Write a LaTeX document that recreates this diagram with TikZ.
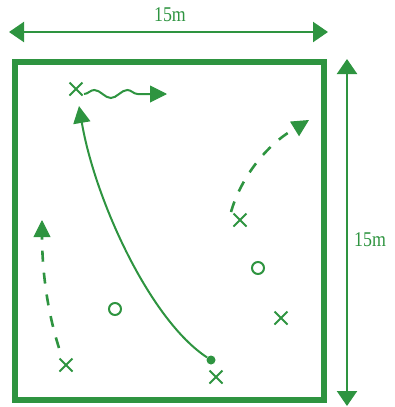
\documentclass[tikz,border=0pt]{standalone}
\usepackage{fontspec}
\setmainfont{Liberation Serif}
\usetikzlibrary{arrows.meta,shapes.misc,decorations.pathmorphing}
\definecolor{pg}{RGB}{46,148,64}
\tikzset{
  xmark/.style={cross out,draw=pg,line width=2pt,minimum size=11pt,inner sep=0pt},
  omark/.style={circle,draw=pg,line width=2pt,minimum size=12pt,inner sep=0pt},
  dotmark/.style={circle,fill=pg,minimum size=9pt,inner sep=0pt},
  bigtip/.style={-{Triangle[length=17pt,width=17pt]}},
  dimline/.style={pg,line width=2.2pt,{Triangle[length=15pt,width=20pt]}-{Triangle[length=15pt,width=20pt]}},
  runline/.style={pg,line width=2pt},
  dashrun/.style={pg,line width=2.6pt,dash pattern=on 11pt off 11pt},
  tipline/.style={pg,line width=1pt,bigtip},
  lbl/.style={text=pg,font=\fontsize{21}{23}\selectfont\addfontfeature{FakeStretch=0.85},inner sep=0pt}
}
\begin{document}
\begin{tikzpicture}[x=1pt,y=-1pt]
\useasboundingbox (0,0) rectangle (394,407);
% pitch
\draw[pg,line width=5.5pt] (15,62) rectangle (324,400);
% dimensions
\coordinate (tl) at (9,32);
\coordinate (tr) at (328,32);
\draw[dimline] (tl) -- (tr);
\node[lbl] (w) at (170,15) {15m};
\coordinate (rt) at (347,59);
\coordinate (rb) at (347,406);
\draw[dimline] (rt) -- (rb);
\node[lbl,anchor=west] (h) at (354,240) {15m};
% players
\node[xmark] (x1) at (76,89) {};
\node[xmark] (x2) at (240,220) {};
\node[xmark] (x3) at (281,318) {};
\node[xmark] (x4) at (66,365) {};
\node[xmark] (x5) at (216,377) {};
\node[omark] (o1) at (258,268) {};
\node[omark] (o2) at (115,309) {};
\node[dotmark] (d1) at (211,360) {};
% targets
\coordinate (w0) at (84,94);
\coordinate (wb) at (150,94);
\coordinate (w1) at (167,94);
\coordinate (a1) at (79,106);
\coordinate (a2) at (309,120);
\coordinate (b2) at (296,128);
\coordinate (a3) at (42,220);
\coordinate (b3) at (42,234);
% wavy dribble
\draw[runline,decorate,decoration={snake,amplitude=4pt,segment length=33pt}] (w0) -- (wb);
\draw[tipline] (wb) -- (w1);
% solid run
\draw[runline,bigtip] (d1) .. controls (150,320) and (95,200) .. (a1);
% dashed runs
\draw[dashrun] (231,212) .. controls (240,180) and (265,145) .. (b2);
\draw[tipline] (b2) -- (a2);
\draw[dashrun] (59,348) .. controls (47,310) and (42,270) .. (b3);
\draw[tipline] (b3) -- (a3);
\end{tikzpicture}
\end{document}
